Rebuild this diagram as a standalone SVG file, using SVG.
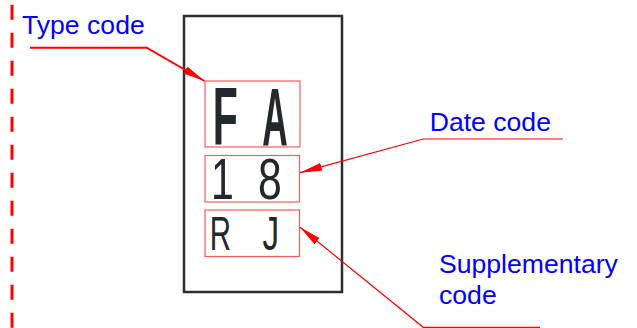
<svg xmlns="http://www.w3.org/2000/svg" width="637" height="328" viewBox="0 0 637 328">
<style>
.lbl{font-family:"Liberation Sans",Arial,sans-serif;font-size:26.6px;fill:#0000ff}
.code{font-family:"Liberation Sans",Arial,sans-serif;fill:#23282d;text-anchor:middle}
.box{fill:none;stroke:#ff5a5a;stroke-width:1.2}
.lead{fill:none;stroke:#ff0000}
</style>
<defs>
<marker id="arr" viewBox="0 0 22 8" refX="22" refY="4" markerWidth="22" markerHeight="8" markerUnits="userSpaceOnUse" orient="auto">
<path d="M0,0 L22,4 L0,8 z" fill="#ff0000"/>
</marker>
</defs>
<rect width="637" height="328" fill="#ffffff"/>
<line id="centerline" x1="12" y1="4.7" x2="12" y2="328" stroke="#ff0000" stroke-width="3" stroke-dasharray="15 13"/>
<g id="body">
<rect x="184" y="16" width="158" height="276" fill="none" stroke="#2b2f33" stroke-width="2.5"/>
</g>
<g id="type-code-box">
<rect class="box" x="205" y="81" width="95" height="66"/>
<text class="code" font-weight="bold" font-size="82" transform="translate(225.3,145.3) scale(0.5,1)">F</text>
<text class="code" font-weight="bold" font-size="82" transform="translate(275,145.3) scale(0.43,1)">A</text>
</g>
<g id="date-code-box">
<rect class="box" x="205" y="155.5" width="94.5" height="46.5"/>
<text class="code" font-size="57" transform="translate(222.5,199.3) scale(0.72,1)">1</text>
<text class="code" font-size="57" transform="translate(270,199.3) scale(0.75,1)">8</text>
</g>
<g id="supplementary-code-box">
<rect class="box" x="205" y="210" width="94.5" height="46.5"/>
<text class="code" font-size="47.5" transform="translate(220.3,250) scale(0.62,1)">R</text>
<text class="code" font-size="47.5" transform="translate(270.8,250) scale(0.7,1)">J</text>
</g>
<g id="connectors">
<polyline class="lead" stroke-width="2" points="30,47.7 146.7,47.7 204.5,81" marker-end="url(#arr)"/>
<polyline class="lead" stroke-width="1.2" points="562.7,139 423.3,139 300,172.7" marker-end="url(#arr)"/>
<polyline class="lead" stroke-width="1.2" points="540,327.3 423.3,327.3 300,227.3" marker-end="url(#arr)"/>
</g>
<g id="labels">
<text class="lbl" x="22" y="34.3">Type code</text>
<text class="lbl" x="429.7" y="130.7">Date code</text>
<text class="lbl" x="439" y="273.3">Supplementary</text>
<text class="lbl" x="439" y="304">code</text>
</g>
</svg>
